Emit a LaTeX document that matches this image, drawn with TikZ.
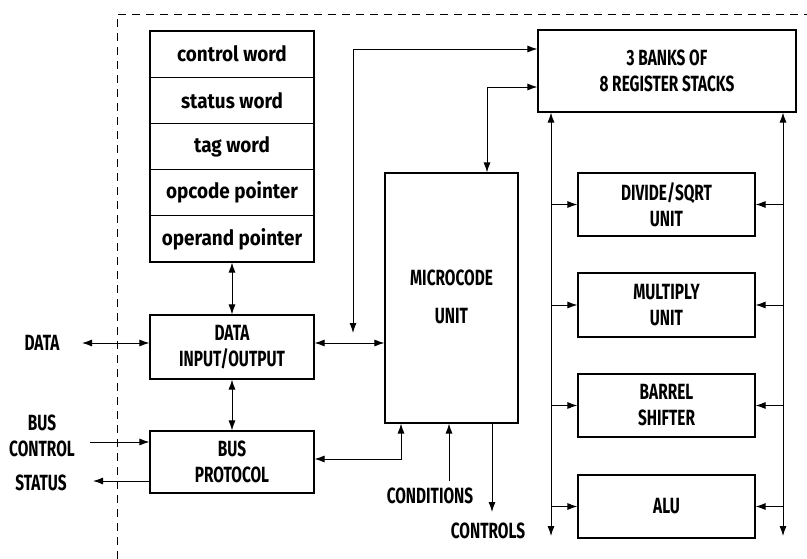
\documentclass[tikz,border=0pt]{standalone}
\usepackage{fontspec}
\setmainfont{Fira Sans}[FakeStretch=0.7]
\newfontfamily\wordfont{Fira Sans}[FakeStretch=0.9]
\usetikzlibrary{arrows.meta}
\begin{document}
\begin{tikzpicture}[x=1pt,y=-1pt,
  font=\fontsize{22}{26}\selectfont\bfseries,
  box/.style={draw,line width=1.2pt,rectangle,inner sep=0pt,align=center},
  wordbox/.style={box,font=\wordfont\fontsize{21}{25}\selectfont\bfseries},
  lbl/.style={inner sep=0pt,align=center},
  conn/.style={line width=0.9pt},
  >={Latex[length=10pt,width=7pt]}]
\useasboundingbox (0,0) rectangle (807,559);
\draw[line width=0.9pt,dash pattern=on 8pt off 6pt] (117,559) -- (117,14) -- (807,14);
% stack of words
\foreach \n/\t [count=\i from 0] in {cw/control word,sw/status word,tw/tag word,opc/opcode pointer,opd/operand pointer}
  \node[wordbox,minimum width=164pt,minimum height=46.2pt] (\n) at (232,{54.1+46.2*\i}) {\t};
\node[box,minimum width=164pt,minimum height=64pt] (datio) at (232,347) {DATA\\INPUT/OUTPUT};
\node[box,minimum width=164pt,minimum height=62pt] (busp) at (232,462) {BUS\\PROTOCOL};
\node[box,minimum width=133pt,minimum height=250pt] (micro) at (451.5,298) {};
\node[lbl] (microt1) at (451.5,278) {MICROCODE};
\node[lbl] (microt2) at (451.5,316) {UNIT};
\node[box,minimum width=258pt,minimum height=82pt] (regs) at (667,71) {3 BANKS OF\\8 REGISTER STACKS};
\node[box,minimum width=177pt,minimum height=63pt] (div) at (666.5,204.5) {DIVIDE/SQRT\\UNIT};
\node[box,minimum width=177pt,minimum height=64pt] (mul) at (666.5,305) {MULTIPLY\\UNIT};
\node[box,minimum width=177pt,minimum height=63pt] (bar) at (666.5,405.5) {BARREL\\SHIFTER};
\node[box,minimum width=177pt,minimum height=63pt] (alu) at (666.5,506.5) {ALU};
% outside labels
\node[lbl] (dataL) at (42,343) {DATA};
\node[lbl] (bcL) at (42,436) {BUS\\CONTROL};
\node[lbl] (stL) at (41,483) {STATUS};
\node[lbl] (condL) at (430,496) {CONDITIONS};
\node[lbl] (ctrlL) at (488,531) {CONTROLS};
% coordinates
\coordinate (dA) at (82,343);
\coordinate (bc) at (90,442);
\coordinate (st) at (93,481);
\coordinate (dm) at (353,343);
\coordinate (vbot) at (353,333);
\coordinate (vtop) at (353,49);
\coordinate (rm) at (487,87);
\coordinate (bm) at (401,459);
\coordinate (cd) at (449,481);
\coordinate (ct) at (492,512);
\coordinate (lb) at (551,536);
\coordinate (rb) at (783,536);
% connectors
\draw[conn,<->] (opd.south) -- (datio.north);
\draw[conn,<->] (datio.south) -- (busp.north);
\draw[conn,<->] (dA) -- (dA -| datio.west);
\draw[conn,->] (bc) -- (bc -| busp.west);
\draw[conn,->] (st -| busp.west) -- (st);
\draw[conn,<->] (dm -| datio.east) -- (dm -| micro.west);
\draw[conn,<->] (vbot) -- (vtop) -- (vtop -| regs.west);
\draw[conn,<->] (rm -| regs.west) -- (rm) -- (rm |- micro.north);
\draw[conn,<->] (bm -| busp.east) -- (bm) -- (bm |- micro.south);
\draw[conn,->] (cd) -- (cd |- micro.south);
\draw[conn,->] (ct |- micro.south) -- (ct);
\draw[conn,<->] (lb) -- (lb |- regs.south);
\draw[conn,<->] (rb) -- (rb |- regs.south);
\foreach \u in {div,mul,bar,alu}{
  \draw[conn,->] (lb |- \u.west) -- (\u.west);
  \draw[conn,->] (rb |- \u.east) -- (\u.east);
}
\end{tikzpicture}
\end{document}
